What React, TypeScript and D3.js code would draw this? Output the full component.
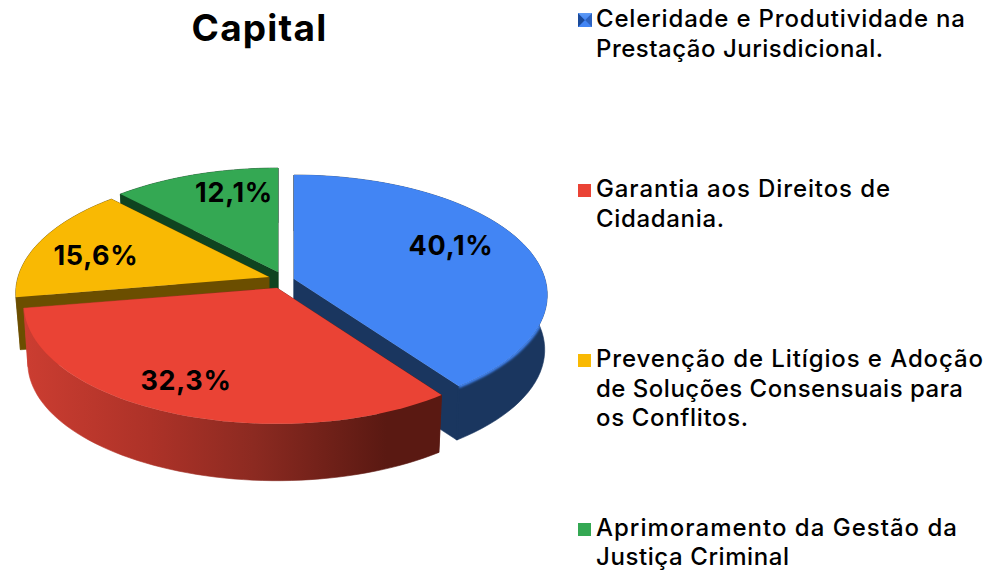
import React from 'react';
import * as d3 from 'd3';

const title = 'Capital';
const shares = [40.1, 32.3, 15.6, 12.1];
const shareLabels = ['40,1%', '32,3%', '15,6%', '12,1%'];
const legendLines = [
  ['Celeridade e Produtividade na', 'Prestação Jurisdicional.'],
  ['Garantia aos Direitos de', 'Cidadania.'],
  ['Prevenção de Litígios e Adoção', 'de Soluções Consensuais para', 'os Conflitos.'],
  ['Aprimoramento da Gestão da', 'Justiça Criminal'],
];
const topColors = ['#4285f4', '#ea4335', '#f9b903', '#34a853'];
const wallColors = ['#1a365f', 'url(#redWall)', '#6b4e00', '#0f4420'];

// where each exploded slice sits, and how deep it is drawn
const apexes = [[294, 279], [277, 288], [269, 277], [278, 272]];
const depths = [55, 59, 53, 53];
const bottomScales = [0.99, 0.984, 0.982, 0.982];
const labelOffsets = [[157, -34], [-91, 92], [-173, -22], [-44, -80]];

// legend layout: first baseline and line step per entry, measured line widths
const legendY = [27, 197, 367, 536];
const legendSteps = [30, 30, 29.6, 29];
const legendWidths = [
  [369, 287],
  [294, 128],
  [387, 367, 152],
  [361, 193],
];
const drawOrder = [3, 2, 0, 1];

// perspective ellipse, near side is bigger than far side
const rx = 251;
const ry = 117.8;
const persp = 0.133;

const project = (a: number, cx: number, cy: number, scale = 1, dz = 0): [number, number] => {
  const s = scale / (1 + persp * Math.cos(a));
  return [cx + rx * Math.sin(a) * s, cy - ry * Math.cos(a) * s + dz];
};

const arcs = d3.pie<number>().sort(null).startAngle(0).endAngle(2 * Math.PI)(shares);
const line = d3.line();

const angles = (a0: number, a1: number) => d3.range(0, 61).map((i) => a0 + ((a1 - a0) * i) / 60);

export default function App() {
  const slices = arcs.map((arc, i) => {
    const [cx, cy] = apexes[i];
    const dz = depths[i];
    const as = angles(arc.startAngle, arc.endAngle);
    const topArc = as.map((a) => project(a, cx, cy));
    const bottomArc = as.map((a) => project(a, cx, cy, bottomScales[i], dz));
    const apex: [number, number] = [cx, cy];
    const apexLow: [number, number] = [cx, cy + dz];
    return {
      top: line([apex, ...topArc])! + 'Z',
      outer: line([...topArc, ...bottomArc.slice().reverse()])! + 'Z',
      wallStart: line([apex, topArc[0], bottomArc[0], apexLow])! + 'Z',
      wallEnd: line([apex, topArc[60], bottomArc[60], apexLow])! + 'Z',
      // covers the hairline between the end wall and the outer wall
      seam: line([topArc[60], bottomArc[60]])!,
      rim: line(topArc)!,
    };
  });

  const textStyle = { fontFamily: 'Inter, sans-serif' };

  return (
    <svg width={989} height={571} style={{ position: 'absolute', left: 0, top: 0, background: '#fff' }}>
      <defs>
        <linearGradient id="redWall" gradientUnits="userSpaceOnUse" x1={26} x2={440} y1={0} y2={0}>
          <stop offset="0" stopColor="#cb3d31" />
          <stop offset="0.3" stopColor="#ad3228" />
          <stop offset="0.55" stopColor="#8c2a21" />
          <stop offset="0.87" stopColor="#5a1912" />
          <stop offset="1" stopColor="#5a1912" />
        </linearGradient>
        <linearGradient id="swatchTop" x1="0" x2="0" y1="0" y2="1">
          <stop offset="0" stopColor="#5f9bf5" />
          <stop offset="1" stopColor="#4285f4" />
        </linearGradient>
        <filter id="soft" x="-10%" y="-10%" width="120%" height="120%">
          <feGaussianBlur stdDeviation="1.2" />
        </filter>
        <clipPath id="blueWallClip">
          <path d={slices[0].outer} />
        </clipPath>
      </defs>

      <text x={259.5} y={41} textAnchor="middle" fontSize={37} fontWeight={700} letterSpacing={1.2} style={textStyle}>
        {title}
      </text>

      {drawOrder.map((idx) => {
        const s = slices[idx];
        const wall = wallColors[idx];
        return (
          <g key={idx}>
            <path d={s.wallStart} fill={wall} stroke={wall} strokeWidth={0.6} />
            <path d={s.wallEnd} fill={wall} stroke={wall} strokeWidth={0.6} />
            <path d={s.outer} fill={wall} stroke={wall} strokeWidth={0.6} />
            {idx === 0 && <path d={s.seam} fill="none" stroke={wall} strokeWidth={2} />}
            {idx === 0 && (
              <g clipPath="url(#blueWallClip)">
                <path d={s.rim} fill="none" stroke={topColors[0]} strokeWidth={4} filter="url(#soft)" />
              </g>
            )}
            <path d={s.top} fill={topColors[idx]} />
          </g>
        );
      })}

      {shareLabels.map((label, i) => (
        <text
          key={label}
          x={apexes[i][0] + labelOffsets[i][0]}
          y={apexes[i][1] + labelOffsets[i][1] + 10}
          textAnchor="middle"
          fontSize={27}
          fontWeight={700}
          letterSpacing={0.7}
          style={textStyle}
        >
          {label}
        </text>
      ))}

      {legendLines.map((lines, i) => {
        const y = legendY[i];
        return (
          <g key={i}>
            {i === 0 ? (
              <g>
                <rect x={578} y={y - 14} width={14} height={14} fill="#4285f4" />
                <path d={`M578 ${y - 14}L585 ${y - 7}L578 ${y}Z`} fill="#1a4a9a" />
                <path d={`M592 ${y - 14}L585 ${y - 7}L592 ${y}Z`} fill="#2c62c0" />
                <path d={`M578 ${y - 14}L592 ${y - 14}L585 ${y - 7}Z`} fill="url(#swatchTop)" />
              </g>
            ) : (
              <rect x={578} y={y - 13} width={13} height={13} fill={topColors[i]} />
            )}
            {lines.map((t, j) => (
              <text
                key={j}
                x={596}
                y={y + j * legendSteps[i]}
                fontSize={24}
                fontWeight={500}
                textLength={legendWidths[i][j]}
                lengthAdjust="spacing"
                style={textStyle}
              >
                {t}
              </text>
            ))}
          </g>
        );
      })}
    </svg>
  );
}
